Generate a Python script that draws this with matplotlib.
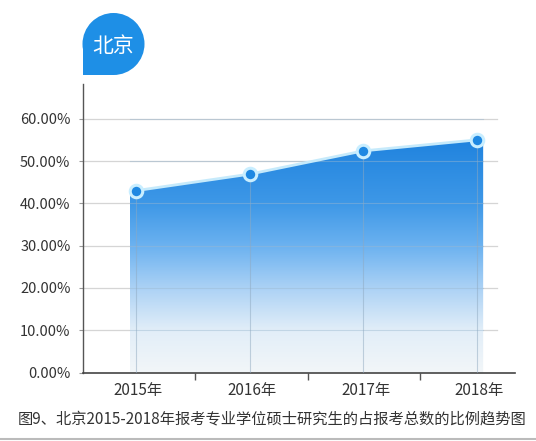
import numpy as np
import matplotlib
matplotlib.use("Agg")
import matplotlib.pyplot as plt
from matplotlib.colors import LinearSegmentedColormap
from matplotlib.patches import Circle, Rectangle, Polygon

plt.rcParams['font.family'] = ['Noto Sans CJK SC', 'DejaVu Sans']

# ---- data ----
years = ['2015年', '2016年', '2017年', '2018年']
ratios = [43.0, 46.9, 52.4, 55.0]          # percent
yticks = [0, 10, 20, 30, 40, 50, 60]
ytick_labels = ['0.00%', '10.00%', '20.00%', '30.00%', '40.00%', '50.00%', '60.00%']
badge_text = '北京'
caption = '图9、北京2015-2018年报考专业学位硕士研究生的占报考总数的比例趋势图'

W, H = 536, 441
fig = plt.figure(figsize=(W / 100, H / 100), dpi=100)
fig.patch.set_facecolor('white')

ax = fig.add_axes([83 / W, 68.4 / H, (515 - 83) / W, (372.6 - 84) / H])
x = np.arange(len(years))
ax.set_xlim(-0.466, 3.333)
ax.set_ylim(0, 68.2)

# gridlines (horizontal)
for yt in yticks[1:]:
    ax.plot([-0.466, 3.175], [yt, yt], color='#D5D5D5', lw=0.9, zorder=1)

# gradient fill under the line
pad = 0.053
xs = np.concatenate([[x[0] - pad], x, [x[-1] + pad]])
ys = np.concatenate([[ratios[0]], ratios, [ratios[-1]]])
stops = [(0.0, (242, 246, 249)), (10 / 56, (226, 238, 248)), (20 / 56, (172, 210, 245)),
         (30 / 56, (108, 178, 240)), (40 / 56, (62, 152, 231)), (1.0, (30, 130, 222))]
cmap = LinearSegmentedColormap.from_list('g', [(p, tuple(c / 255 for c in col)) for p, col in stops])
grad = np.linspace(0, 1, 256).reshape(-1, 1)
im = ax.imshow(grad, cmap=cmap, aspect='auto', origin='lower',
               extent=[xs[0], xs[-1], 0, 56], zorder=2)
poly = Polygon(np.column_stack([np.concatenate([xs, [xs[-1], xs[0]]]),
                                np.concatenate([ys, [0, 0]])]),
               closed=True, transform=ax.transData, facecolor='none', edgecolor='none')
ax.add_patch(poly)
im.set_clip_path(poly)

# gridlines visible over the area
for yt in yticks[1:]:
    ax.plot([xs[0], xs[-1]], [yt, yt], color='#9BB8D0', lw=0.8, alpha=0.45, zorder=3)
for xi, yv in zip(x, ratios):
    ax.plot([xi, xi], [0, yv], color='#8FA9C0', lw=0.8, alpha=0.5, zorder=3)

# top edge line and markers
ax.plot(xs, ys, color='#C6EAFB', lw=2.0, zorder=4, solid_capstyle='butt')
ax.plot(x, ratios, linestyle='none', marker='o', markersize=9,
        markerfacecolor='#1E88E2', markeredgecolor='#C9EEFF', markeredgewidth=2.2, zorder=5)

# axes styling
for s in ['top', 'right']:
    ax.spines[s].set_visible(False)
ax.spines['left'].set_color('#555555')
ax.spines['bottom'].set_color('#444444')
ax.spines['left'].set_linewidth(1.0)
ax.spines['bottom'].set_linewidth(1.2)
ax.set_yticks(yticks)
ax.set_yticklabels(ytick_labels, fontsize=10.5, color='#333333')
ax.tick_params(axis='y', length=3, width=0.8, color='#999999', pad=6)
ax.set_xticks(x + 0.02)
ax.set_xticklabels(years, fontsize=11, color='#333333')
ax.set_xticks([0.52, 1.51, 2.5], minor=True)
ax.tick_params(axis='x', which='major', length=0, pad=7)
ax.tick_params(axis='x', which='minor', length=5, width=1, color='#555555')
ax.set_facecolor('none')

# overlay in pixel coordinates
ov = fig.add_axes([0, 0, 1, 1], zorder=10)
ov.set_xlim(0, W)
ov.set_ylim(H, 0)
ov.axis('off')
badge_color = '#1E8FE6'
ov.add_patch(Circle((113.5, 44), 31, facecolor=badge_color, edgecolor='none'))
ov.add_patch(Rectangle((82.5, 44), 31, 31, facecolor=badge_color, edgecolor='none'))
ov.text(113, 46, badge_text, color='white', fontsize=15, ha='center', va='center', weight='medium')
ov.text(272, 419, caption, color='#333333', fontsize=11, ha='center', va='center')
ov.plot([0, W], [438.5, 438.5], color='#BBBBBB', lw=1.5)

fig.savefig('out.png', dpi=100, facecolor='white')
